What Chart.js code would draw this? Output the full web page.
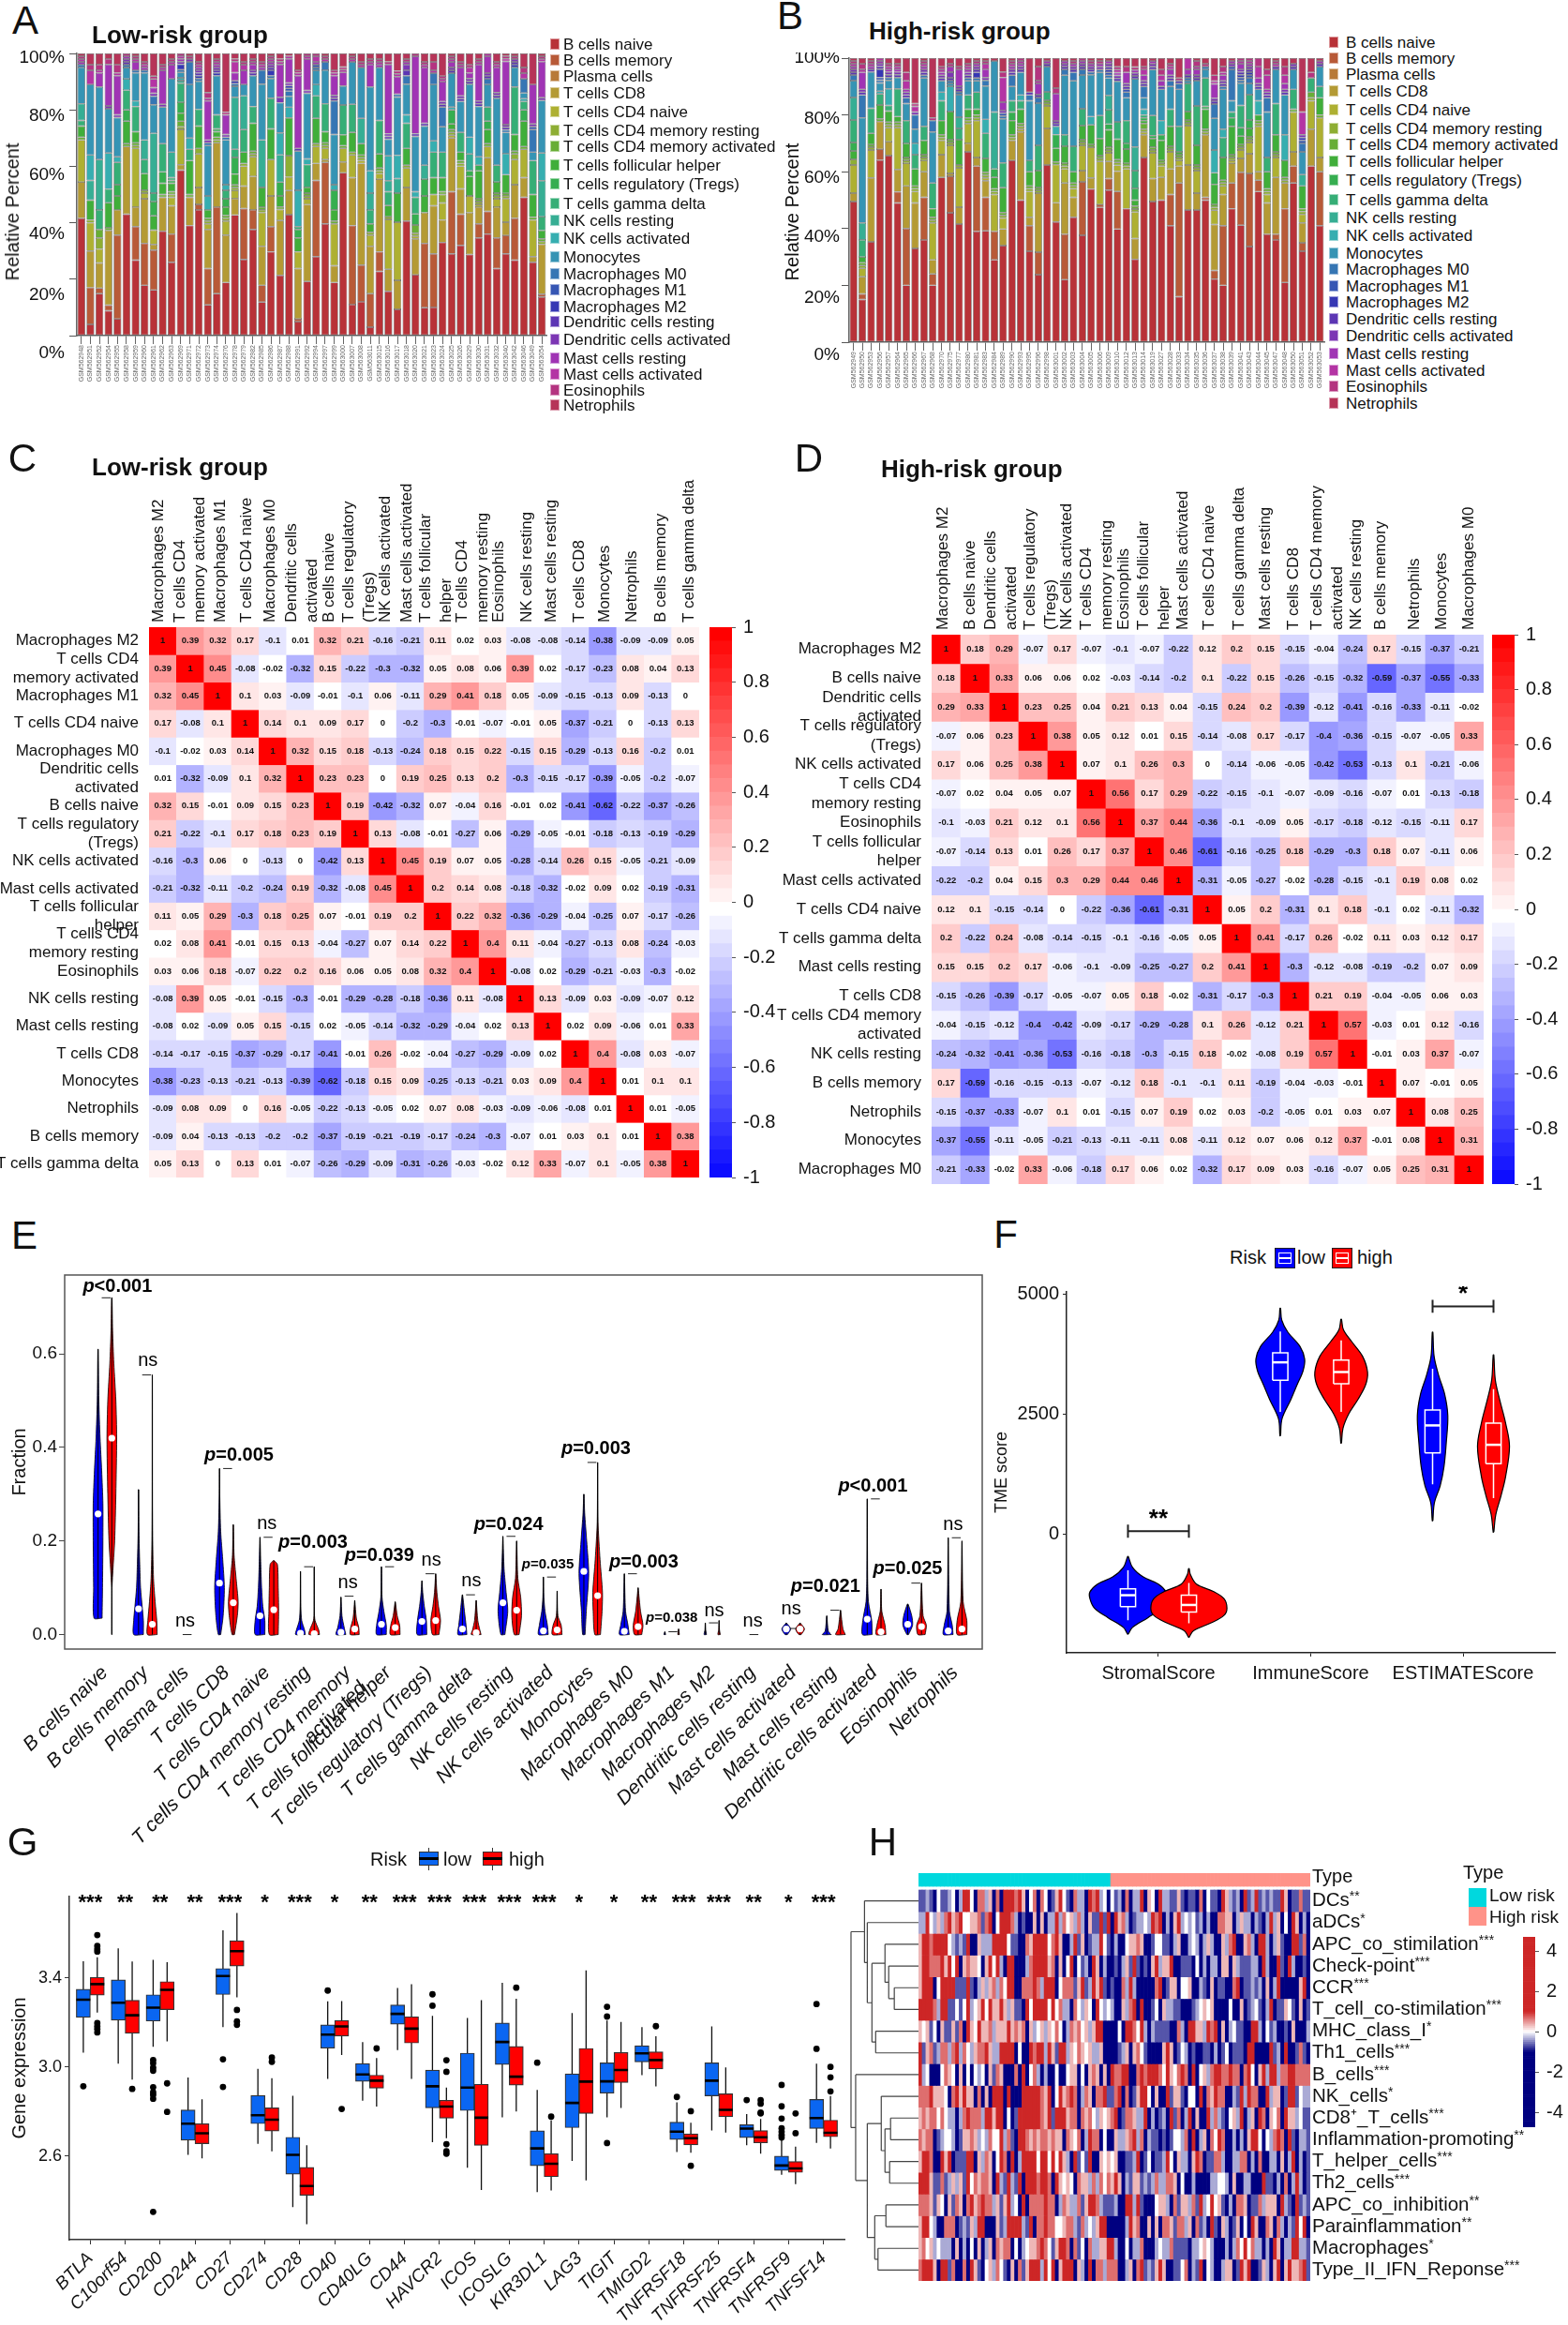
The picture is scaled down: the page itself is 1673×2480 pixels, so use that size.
<!DOCTYPE html>
<html>
<head>
<meta charset="utf-8">
<script src="https://cdn.jsdelivr.net/npm/chart.js@4"></script>
<style>
  html, body { margin: 0; padding: 0; background: #fff; }
  #page { position: relative; width: 1673px; height: 2480px; overflow: hidden; background: #fff; }
  #page canvas { position: absolute; }
  .t { position: absolute; white-space: nowrap; line-height: 1; color: #111; }
</style>
</head>
<body>
<div id="page"></div>
<script>
// --- panels A, B: immune cell fractions per sample ---
const cellTypes = ['B cells naive','B cells memory','Plasma cells','T cells CD8','T cells CD4 naive','T cells CD4 memory resting','T cells CD4 memory activated','T cells follicular helper','T cells regulatory (Tregs)','T cells gamma delta','NK cells resting','NK cells activated','Monocytes','Macrophages M0','Macrophages M1','Macrophages M2','Dendritic cells resting','Dendritic cells activated','Mast cells resting','Mast cells activated','Eosinophils','Netrophils'];
const cellColors = ['#B83238','#B85A38','#B87A38','#B49A34','#AEB032','#8EAE34','#68AE36','#40AE3A','#36AE50','#36AE76','#36AE94','#36AEB0','#3694B4','#3676B4','#3656B4','#3638B4','#5C36B4','#7C36B4','#A034B4','#B434A4','#B43480','#B63458'];
const lowSampleIds = [562948,562951,562952,562954,562955,562958,562959,562960,562961,562962,562963,562969,562971,562972,562973,562974,562976,562978,562979,562982,562985,562986,562987,562988,562991,562992,562994,562997,562999,563000,563007,563008,563011,563015,563016,563017,563018,563020,563021,563023,563024,563025,563026,563029,563030,563031,563032,563040,563042,563046,563049,563054];
const highSampleIds = [562949,562950,562953,562956,562957,562964,562965,562966,562967,562968,562970,562975,562977,562980,562981,562983,562984,562989,562990,562993,562995,562996,562998,563001,563002,563003,563004,563005,563006,563009,563010,563012,563013,563014,563019,563027,563028,563033,563034,563035,563036,563037,563038,563039,563041,563043,563044,563045,563047,563048,563050,563051,563052,563053];
const lowRiskRows = [
[42,0,0,13,15,0,1,4,0,2,6,0,13,1,0,0,0,0,1,1,1,1],
[4,13,0,13,10,1,0,7,0,0,7,9,25,0,0,0,0,0,0,5,2,4],
[15,2,0,9,5,4,3,0,0,7,18,0,26,0,0,0,0,0,5,1,2,4],
[9,2,0,27,0,0,1,9,0,5,0,13,16,0,0,0,0,1,15,0,2,2],
[6,30,0,9,0,0,0,5,4,8,0,2,14,0,0,0,0,1,14,1,3,4],
[43,0,0,24,0,0,1,8,4,7,0,4,4,1,0,0,1,1,1,0,1,0],
[27,12,0,7,21,1,1,4,0,9,0,2,10,1,0,0,0,0,3,1,1,1],
[18,15,0,16,2,1,0,6,0,5,7,0,24,1,0,0,0,0,1,1,1,3],
[16,14,0,2,5,0,0,5,5,3,21,0,10,3,0,0,0,1,2,3,1,8],
[37,0,0,12,0,0,1,4,4,10,0,0,13,0,0,0,0,1,12,1,1,4],
[26,10,0,10,3,1,1,3,1,1,9,0,26,0,0,0,0,0,5,1,1,2],
[61,0,0,2,13,1,2,3,4,7,1,1,2,1,0,2,0,1,1,1,1,0],
[39,0,0,10,0,0,1,12,0,4,0,4,19,8,0,0,0,1,0,0,1,1],
[45,2,0,6,12,2,0,8,0,6,0,0,10,1,0,1,1,1,1,1,1,3],
[11,13,0,14,2,1,1,3,0,0,0,5,18,1,0,0,0,1,14,1,2,14],
[15,31,0,23,0,1,1,2,1,5,0,0,14,0,0,1,1,1,1,1,1,2],
[19,0,0,17,5,1,1,3,3,3,0,2,16,1,0,0,0,1,7,0,1,21],
[44,0,0,6,3,1,1,4,6,3,19,0,4,1,0,1,0,0,3,4,1,2],
[27,18,0,8,7,1,0,4,0,8,12,0,4,0,0,0,0,0,5,2,1,3],
[38,7,0,12,7,1,1,10,0,6,0,0,11,0,0,0,1,1,2,1,1,2],
[12,6,0,14,12,1,1,7,0,0,17,0,20,5,0,0,0,0,1,1,1,3],
[30,9,0,11,13,0,0,11,0,11,0,0,7,1,0,2,1,1,1,1,1,1],
[22,0,0,20,4,0,1,4,5,0,10,8,11,0,0,0,0,2,12,1,1,2],
[45,0,0,9,5,8,0,14,0,0,0,4,4,2,1,1,0,1,9,1,0,1],
[5,1,0,18,6,0,0,5,3,1,0,13,14,0,0,0,1,0,26,1,1,6],
[19,0,0,27,2,1,1,2,0,8,0,2,23,0,0,0,0,1,11,1,1,0],
[28,27,0,6,6,1,0,9,0,8,0,4,5,1,1,0,0,0,1,2,1,0],
[40,22,0,1,4,1,1,4,0,10,0,0,12,3,0,0,0,0,0,1,1,1],
[19,0,0,6,15,0,1,4,7,0,0,2,18,12,0,0,1,1,7,1,1,6],
[60,0,0,4,5,0,1,4,0,11,0,0,7,0,0,0,0,0,5,1,1,5],
[11,28,0,17,8,1,0,7,0,10,0,0,15,0,0,0,0,0,0,1,1,1],
[12,13,0,36,1,1,1,4,0,0,9,0,18,0,0,0,0,0,0,1,1,3],
[3,12,0,17,4,1,0,3,0,5,6,8,30,0,0,0,0,0,8,1,1,2],
[23,7,0,26,2,1,1,5,0,12,0,0,19,0,0,0,0,0,1,1,1,2],
[16,0,0,8,18,1,0,4,0,5,4,9,6,0,0,0,1,1,25,0,1,3],
[9,0,0,10,20,0,0,10,0,0,5,8,20,1,0,0,0,0,6,1,1,6],
[41,0,0,12,7,1,0,6,0,9,0,3,11,3,0,0,2,2,1,0,1,2],
[22,0,0,13,1,1,3,0,4,6,0,2,20,0,0,0,1,0,28,0,1,0],
[10,23,0,11,0,0,0,6,6,0,5,0,14,0,0,0,1,0,20,1,1,3],
[10,19,0,17,4,0,0,6,0,9,0,4,20,4,0,0,0,0,0,1,3,3],
[33,0,0,8,6,3,1,5,0,9,0,0,9,7,0,0,1,1,7,1,1,8],
[29,22,0,19,1,1,1,2,5,0,0,1,12,0,0,0,1,1,2,1,1,1],
[32,11,0,9,8,1,1,3,0,7,0,0,11,0,0,0,1,1,10,1,1,3],
[29,0,0,15,6,0,0,7,2,0,6,6,19,0,0,0,1,1,2,2,1,4],
[35,5,0,6,1,1,1,10,2,0,0,3,18,0,0,0,1,1,13,1,1,2],
[36,8,0,19,4,0,1,5,3,5,0,0,8,2,0,0,1,1,6,1,0,0],
[24,11,0,11,3,1,1,4,0,6,0,0,24,0,0,0,1,1,9,1,1,3],
[31,7,0,5,9,1,1,7,0,0,0,8,8,1,0,0,1,1,24,1,1,1],
[27,15,0,12,9,2,1,6,0,17,0,0,7,0,0,1,1,1,0,0,1,1],
[49,0,0,7,10,0,1,9,4,3,0,1,2,5,0,0,0,0,0,2,2,5],
[26,0,0,2,13,0,1,8,0,12,0,0,3,8,1,0,0,1,14,0,0,11],
[14,1,0,18,0,1,1,3,0,5,13,10,19,0,0,0,0,1,13,1,1,1]];
const highRiskRows = [
[50,0,0,3,10,2,0,3,3,8,8,0,6,2,0,0,1,1,1,1,1,1],
[15,2,0,6,3,1,1,2,0,6,6,0,37,8,0,0,1,1,6,1,2,2],
[36,0,0,23,10,1,1,4,0,9,0,0,13,0,0,0,1,0,1,1,1,1],
[66,4,0,10,0,0,1,5,0,4,0,1,3,1,1,3,1,1,1,1,0,0],
[67,0,0,5,5,1,1,4,0,2,0,6,3,1,0,0,1,1,1,1,1,2],
[50,4,0,8,15,1,1,2,0,10,0,0,4,0,0,0,1,1,1,1,1,2],
[20,20,0,15,8,1,1,5,0,8,0,0,6,2,0,0,1,1,1,3,3,5],
[33,0,0,16,4,1,1,6,0,5,0,4,5,5,0,0,0,1,0,2,1,16],
[36,15,0,9,4,1,1,5,0,5,0,0,17,1,0,0,1,1,1,1,1,1],
[20,4,0,5,13,1,1,3,0,9,0,0,18,4,0,0,0,0,0,0,1,21],
[58,0,0,8,5,1,1,5,0,7,0,3,4,0,0,0,1,1,1,1,1,3],
[46,13,0,1,10,1,1,10,0,0,0,9,1,1,0,0,1,2,2,0,1,2],
[42,0,0,6,14,1,0,9,0,4,4,0,8,1,0,0,1,1,6,0,1,3],
[67,0,0,3,7,1,1,3,0,5,0,0,5,1,0,0,1,1,1,1,1,2],
[39,23,0,3,13,1,1,2,0,6,0,0,4,1,0,2,1,1,1,0,1,1],
[40,12,0,6,1,1,1,5,0,9,0,5,12,2,0,0,0,1,3,2,1,1],
[29,10,0,0,13,1,1,4,3,0,20,0,18,0,0,0,0,0,0,0,0,1],
[35,0,0,6,4,1,1,9,0,9,0,0,16,1,1,0,0,1,3,9,2,5],
[64,0,0,7,0,1,1,5,3,4,0,0,5,4,0,0,1,1,1,1,1,1],
[50,0,0,24,1,1,1,5,0,3,0,2,8,0,0,0,1,1,1,1,1,0],
[32,9,0,3,9,1,1,5,0,4,0,0,21,2,0,0,1,0,0,0,0,12],
[24,8,0,21,0,1,1,6,0,9,0,0,15,2,0,0,1,0,4,1,5,3],
[63,0,0,13,8,1,1,0,0,3,0,0,9,0,0,0,1,0,1,0,0,1],
[44,0,0,7,14,0,1,5,5,0,0,3,0,0,0,0,1,1,10,0,2,11],
[22,16,0,18,5,1,1,6,0,4,0,0,21,2,0,0,1,1,1,0,0,1],
[44,0,0,7,3,1,1,4,0,9,0,0,23,3,0,0,1,1,1,0,1,1],
[38,19,0,4,9,1,1,5,0,6,0,0,12,2,0,0,1,1,1,0,1,0],
[55,0,0,4,11,0,1,7,0,0,0,3,15,1,0,0,1,1,1,0,1,1],
[47,1,0,0,15,1,1,6,0,8,0,0,15,1,0,0,0,1,1,0,1,1],
[53,4,0,6,3,1,1,6,2,5,5,0,6,1,1,1,1,1,1,0,0,1],
[39,13,0,7,2,1,1,7,0,6,0,0,14,0,0,0,1,1,1,1,1,3],
[47,0,0,0,14,1,1,5,2,8,0,0,8,2,1,0,1,1,4,0,2,3],
[28,0,0,7,9,1,1,2,4,6,8,0,23,0,0,0,1,1,1,0,1,3],
[65,0,0,8,1,1,2,1,1,1,0,2,4,4,0,0,1,1,2,2,1,3],
[49,0,0,8,9,1,1,3,1,7,0,0,16,0,0,0,1,1,1,0,0,1],
[50,0,0,8,4,1,1,7,2,0,0,5,11,0,0,0,1,0,2,2,2,4],
[41,11,0,9,6,1,1,7,0,6,0,0,8,2,0,0,1,1,2,1,1,2],
[16,40,0,6,2,1,1,1,0,9,0,0,13,2,0,0,1,0,0,0,1,7],
[47,0,0,16,14,1,1,3,0,10,0,0,1,1,0,0,1,0,2,4,0,0],
[47,0,0,6,8,1,1,7,0,14,0,0,9,0,0,0,1,1,2,1,2,1],
[50,1,0,22,0,1,1,7,1,10,0,0,3,1,0,0,0,0,0,0,1,2],
[22,3,0,16,5,1,1,7,4,0,0,8,11,5,0,0,1,1,5,1,2,6],
[20,21,0,11,3,1,1,8,0,7,0,3,14,1,0,0,1,1,2,1,2,3],
[47,9,0,7,1,1,1,10,3,2,0,0,4,11,1,0,0,1,1,0,0,1],
[42,19,0,5,3,1,1,3,3,8,0,0,8,1,1,1,1,1,2,1,1,0],
[34,26,0,7,4,1,1,3,3,9,0,0,4,2,1,1,1,1,1,1,1,0],
[53,4,0,3,16,1,1,2,0,0,0,5,4,0,0,0,1,1,2,4,3,0],
[38,0,0,11,3,1,1,6,0,5,0,0,16,5,0,0,1,1,1,5,2,4],
[36,2,0,20,7,1,1,6,0,11,0,0,12,0,0,0,1,0,0,1,1,1],
[21,26,0,9,0,1,1,6,0,0,0,9,14,0,0,0,1,1,2,3,3,3],
[56,6,0,5,14,0,1,0,0,7,0,0,7,0,0,0,1,1,0,0,0,2],
[32,3,0,7,3,1,1,8,0,0,4,0,8,3,1,1,0,1,0,8,0,19],
[62,0,0,13,10,1,2,0,0,5,0,0,0,0,0,0,0,0,0,0,2,5],
[41,19,0,5,14,0,1,6,0,4,0,0,7,0,0,0,1,0,1,0,0,1]];
const percentTicks = [0,20,40,60,80,100];

// --- panels C, D: correlation matrices ---
const lowCorrLabels = [['Macrophages M2'],['T cells CD4','memory activated'],['Macrophages M1'],['T cells CD4 naive'],['Macrophages M0'],['Dendritic cells','activated'],['B cells naive'],['T cells regulatory','(Tregs)'],['NK cells activated'],['Mast cells activated'],['T cells follicular','helper'],['T cells CD4','memory resting'],['Eosinophils'],['NK cells resting'],['Mast cells resting'],['T cells CD8'],['Monocytes'],['Netrophils'],['B cells memory'],['T cells gamma delta']];
const lowCorr = [
[1,.39,.32,.17,-.1,.01,.32,.21,-.16,-.21,.11,.02,.03,-.08,-.08,-.14,-.38,-.09,-.09,.05],
[.39,1,.45,-.08,-.02,-.32,.15,-.22,-.3,-.32,.05,.08,.06,.39,.02,-.17,-.23,.08,.04,.13],
[.32,.45,1,.1,.03,-.09,-.01,-.1,.06,-.11,.29,.41,.18,.05,-.09,-.15,-.13,.09,-.13,0],
[.17,-.08,.1,1,.14,.1,.09,.17,0,-.2,-.3,-.01,-.07,-.01,.05,-.37,-.21,0,-.13,.13],
[-.1,-.02,.03,.14,1,.32,.15,.18,-.13,-.24,.18,.15,.22,-.15,.15,-.29,-.13,.16,-.2,.01],
[.01,-.32,-.09,.1,.32,1,.23,.23,0,.19,.25,.13,.2,-.3,-.15,-.17,-.39,-.05,-.2,-.07],
[.32,.15,-.01,.09,.15,.23,1,.19,-.42,-.32,.07,-.04,.16,-.01,.02,-.41,-.62,-.22,-.37,-.26],
[.21,-.22,-.1,.17,.18,.23,.19,1,.13,-.08,-.01,-.27,.06,-.29,-.05,-.01,-.18,-.13,-.19,-.29],
[-.16,-.3,.06,0,-.13,0,-.42,.13,1,.45,.19,.07,.05,-.28,-.14,.26,.15,-.05,-.21,-.09],
[-.21,-.32,-.11,-.2,-.24,.19,-.32,-.08,.45,1,.2,.14,.08,-.18,-.32,-.02,.09,.02,-.19,-.31],
[.11,.05,.29,-.3,.18,.25,.07,-.01,.19,.2,1,.22,.32,-.36,-.29,-.04,-.25,.07,-.17,-.26],
[.02,.08,.41,-.01,.15,.13,-.04,-.27,.07,.14,.22,1,.4,.11,-.04,-.27,-.13,.08,-.24,-.03],
[.03,.06,.18,-.07,.22,.2,.16,.06,.05,.08,.32,.4,1,-.08,.02,-.29,-.21,-.03,-.3,-.02],
[-.08,.39,.05,-.01,-.15,-.3,-.01,-.29,-.28,-.18,-.36,.11,-.08,1,.13,-.09,.03,-.09,-.07,.12],
[-.08,.02,-.09,.05,.15,-.15,.02,-.05,-.14,-.32,-.29,-.04,.02,.13,1,.02,.09,-.06,.01,.33],
[-.14,-.17,-.15,-.37,-.29,-.17,-.41,-.01,.26,-.02,-.04,-.27,-.29,-.09,.02,1,.4,-.08,.03,-.07],
[-.38,-.23,-.13,-.21,-.13,-.39,-.62,-.18,.15,.09,-.25,-.13,-.21,.03,.09,.4,1,.01,.1,.1],
[-.09,.08,.09,0,.16,-.05,-.22,-.13,-.05,.02,.07,.08,-.03,-.09,-.06,-.08,.01,1,.01,-.05],
[-.09,.04,-.13,-.13,-.2,-.2,-.37,-.19,-.21,-.19,-.17,-.24,-.3,-.07,.01,.03,.1,.01,1,.38],
[.05,.13,0,.13,.01,-.07,-.26,-.29,-.09,-.31,-.26,-.03,-.02,.12,.33,-.07,.1,-.05,.38,1]];
const highCorrLabels = [['Macrophages M2'],['B cells naive'],['Dendritic cells','activated'],['T cells regulatory','(Tregs)'],['NK cells activated'],['T cells CD4','memory resting'],['Eosinophils'],['T cells follicular','helper'],['Mast cells activated'],['T cells CD4 naive'],['T cells gamma delta'],['Mast cells resting'],['T cells CD8'],['T cells CD4 memory','activated'],['NK cells resting'],['B cells memory'],['Netrophils'],['Monocytes'],['Macrophages M0']];
const highCorr = [
[1,.18,.29,-.07,.17,-.07,-.1,-.07,-.22,.12,.2,.15,-.15,-.04,-.24,.17,-.15,-.37,-.21],
[.18,1,.33,.06,.06,.02,-.03,-.14,-.2,.1,-.22,.15,-.26,-.15,-.32,-.59,-.37,-.55,-.33],
[.29,.33,1,.23,.25,.04,.21,.13,.04,-.15,.24,.2,-.39,-.12,-.41,-.16,-.33,-.11,-.02],
[-.07,.06,.23,1,.38,.05,.12,.01,.15,-.14,-.08,.17,-.17,-.4,-.36,-.15,-.07,-.05,.33],
[.17,.06,.25,.38,1,.07,.1,.26,.3,0,-.14,-.06,-.05,-.42,-.53,-.13,.1,-.21,-.06],
[-.07,.02,.04,.05,.07,1,.56,.17,.29,-.22,-.15,-.1,-.07,-.09,-.16,-.07,.01,-.13,-.18],
[-.1,-.03,.21,.12,.1,.56,1,.37,.44,-.36,-.1,-.09,.05,-.17,-.18,-.12,-.15,-.11,.17],
[-.07,-.14,.13,.01,.26,.17,.37,1,.46,-.61,-.16,-.25,.18,-.29,-.3,.18,.07,-.11,.06],
[-.22,-.2,.04,.15,.3,.29,.44,.46,1,-.31,-.05,-.27,-.02,-.28,-.15,-.1,.19,.08,.02],
[.12,.1,-.15,-.14,0,-.22,-.36,-.61,-.31,1,.05,.2,-.31,.1,.18,-.1,.02,-.11,-.32],
[.2,-.22,.24,-.08,-.14,-.15,-.1,-.16,-.05,.05,1,.41,-.17,.26,-.02,.11,.03,.12,.17],
[.15,.15,.2,.17,-.06,-.1,-.09,-.25,-.27,.2,.41,1,-.3,-.12,-.08,-.19,-.2,.07,.09],
[-.15,-.26,-.39,-.17,-.05,-.07,.05,.18,-.02,-.31,-.17,-.3,1,.21,.19,-.04,-.05,.06,.03],
[-.04,-.15,-.12,-.4,-.42,-.09,-.17,-.29,-.28,.1,.26,-.12,.21,1,.57,-.03,.01,.12,-.16],
[-.24,-.32,-.41,-.36,-.53,-.16,-.18,-.3,-.15,.18,-.02,-.08,.19,.57,1,-.01,.03,.37,-.07],
[.17,-.59,-.16,-.15,-.13,-.07,-.12,.18,-.1,-.1,.11,-.19,-.04,-.03,-.01,1,.07,-.01,.05],
[-.15,-.37,-.33,-.07,.1,.01,-.15,.07,.19,.02,.03,-.2,-.05,.01,.03,.07,1,.08,.25],
[-.37,-.55,-.11,-.05,-.21,-.13,-.11,-.11,.08,-.11,.12,.07,.06,.12,.37,-.01,.08,1,.31],
[-.21,-.33,-.02,.33,-.06,-.18,.17,.06,.02,-.32,.17,.09,.03,-.16,-.07,.05,.25,.31,1]];
const corrTicks = [-1,-.8,-.6,-.4,-.2,0,.2,.4,.6,.8,1];

// --- panel E: violins, each profile is [fraction, half width] pairs ---
const fractionCells = ['B cells naive','B cells memory','Plasma cells','T cells CD8','T cells CD4 naive','T cells CD4 memory resting',['T cells CD4 memory','activated'],'T cells follicular helper','T cells regulatory (Tregs)','T cells gamma delta','NK cells resting','NK cells activated','Monocytes','Macrophages M0','Macrophages M1','Macrophages M2','Dendritic cells resting','Mast cells activated','Mast cells resting','Dendritic cells activated','Eosinophils','Netrophils'];
const fractionLow = [
[[.035,.10],[.1,.11],[.2,.12],[.28,.12],[.35,.09],[.42,.05],[.5,.02],[.61,.005]],
[[0,.12],[.03,.12],[.06,.09],[.1,.05],[.15,.03],[.22,.01],[.31,.003]],
[],
[[0,.03],[.04,.09],[.1,.12],[.16,.08],[.22,.03],[.3,.006],[.355,.002]],
[[0,.12],[.03,.12],[.06,.07],[.1,.04],[.15,.02],[.208,.003]],
[[0,.12],[.01,.1],[.03,.03],[.06,.008],[.135,.002]],
[[0,.12],[.015,.08],[.04,.025],[.08,.002]],
[[0,.12],[.02,.12],[.05,.06],[.08,.015],[.145,.002]],
[[0,.12],[.03,.11],[.06,.06],[.09,.02],[.115,.002]],
[[0,.11],[.02,.09],[.05,.05],[.085,.005]],
[[0,.05],[.05,.12],[.09,.08],[.14,.03],[.21,.002]],
[[0,.12],[.02,.1],[.05,.04],[.08,.012],[.123,.002]],
[[0,.03],[.05,.06],[.13,.12],[.2,.07],[.26,.02],[.3,.003]],
[[0,.12],[.02,.09],[.05,.03],[.13,.002]],
[[0,.02],[.004,.01],[.006,.001]],
[[0,.03],[.01,.01],[.025,.002]],
[],
[[0,.03],[.012,.11],[.025,.002]],
[[0,.11],[.007,.04],[.04,.002]],
[[0,.12],[.03,.11],[.07,.03],[.12,.01],[.29,.002]],
[[0,.02],[.02,.12],[.04,.1],[.065,.01]],
[[0,.12],[.02,.1],[.05,.03],[.207,.002]]];
const fractionHigh = [
[[0,.002],[.05,.003],[.1,.004],[.2,.07],[.3,.1],[.42,.12],[.5,.1],[.58,.05],[.65,.02],[.72,.005]],
[[0,.12],[.03,.11],[.07,.07],[.12,.03],[.2,.01],[.3,.004],[.555,.002]],
[],
[[0,.03],[.04,.1],[.07,.12],[.12,.07],[.17,.02],[.235,.003]],
[[0,.11],[.05,.12],[.1,.11],[.15,.09],[.158,.01]],
[[0,.13],[.01,.11],[.03,.02],[.05,.002],[.145,.002]],
[[0,.11],[.015,.1],[.035,.04],[.073,.002]],
[[0,.12],[.02,.11],[.04,.05],[.07,.003]],
[[0,.08],[.03,.12],[.06,.07],[.09,.03],[.13,.002]],
[[0,.12],[.01,.09],[.03,.04],[.073,.002]],
[[0,.06],[.04,.12],[.08,.1],[.12,.03],[.2,.002]],
[[0,.12],[.02,.1],[.04,.02],[.093,.002]],
[[0,.07],[.05,.11],[.09,.12],[.16,.06],[.24,.01],[.368,.002]],
[[0,.09],[.02,.12],[.05,.06],[.1,.002]],
[[0,.02],[.006,.01],[.012,.001]],
[[0,.03],[.01,.01],[.03,.002]],
[],
[[0,.03],[.012,.11],[.025,.002]],
[[0,.12],[.012,.06],[.052,.002]],
[[0,.12],[.02,.1],[.05,.02],[.097,.002]],
[[0,.09],[.02,.12],[.04,.04],[.11,.002]],
[[0,.12],[.03,.12],[.07,.03],[.2,.002]]];
const fractionLowMedian = [.258,.055,null,.11,.04,.003,.005,.022,.028,.012,.068,.008,.135,.007,null,null,null,.012,null,.033,.022,.008];
const fractionHighMedian = [.42,.022,null,.068,.053,.002,.012,.015,.03,.004,.052,.01,.083,.017,null,null,null,.012,null,.006,.017,.012];
const fractionBracket = [.72,.555,0,.355,.208,.145,.082,.145,.13,.085,.21,.123,.368,.13,.006,.025,0,.013,.052,.29,.11,.207];
const fractionTicks = [0,.2,.4,.6];
const fractionNoteText = ['p<0.001','ns','ns','p=0.005','ns','p=0.003','ns','p=0.039','ns','ns','p=0.024','p=0.035','p=0.003','p=0.003','p=0.038','ns','ns','ns','p=0.021','p<0.001','p=0.025','ns'];
const fractionNoteX = [.31,1.06,1.98,3.31,4,5.14,6,6.78,8.06,9.05,9.97,10.94,12.13,13.31,14,15.05,16,16.95,17.8,18.97,19.83,20.95];
const fractionNoteY = [.744,.585,.029,.382,.237,.197,.11,.168,.159,.114,.235,.149,.396,.155,.035,.05,.028,.054,.103,.317,.14,.234];

// --- panel F: TME scores, profile is [score, half width] pairs ---
const scoreNames = ['StromalScore','ImmuneScore','ESTIMATEScore'];
const scoreTicks = [0,2500,5000];
const scoreLow = [
[[-2090,.002],[-1950,.03],[-1750,.13],[-1550,.22],[-1350,.25],[-1213,.25],[-1050,.2],[-900,.1],[-700,.03],[-472,.002]],
[[2042,.002],[2400,.012],[2800,.07],[3100,.11],[3400,.15],[3640,.16],[3900,.13],[4200,.05],[4450,.01],[4698,.002]],
[[270,.002],[650,.012],[1000,.05],[1400,.075],[1900,.09],[2460,.1],[2900,.08],[3300,.04],[3700,.01],[4199,.002]]];
const scoreHigh = [
[[-2157,.002],[-2020,.03],[-1850,.15],[-1700,.23],[-1550,.25],[-1350,.23],[-1200,.16],[-1050,.05],[-850,.01],[-728,.002]],
[[1887,.002],[2200,.012],[2500,.05],[2800,.11],[3100,.16],[3370,.173],[3700,.14],[4000,.07],[4250,.015],[4469,.002]],
[[34,.002],[400,.015],[800,.05],[1200,.08],[1820,.105],[2300,.08],[2800,.04],[3200,.012],[3727,.002]]];
// whisker low, q1, median, q3, whisker high
const scoreLowBox = [[-1800,-1516,-1280,-1146,-762],[2541,3200,3572,3768,4213],[1031,1685,2258,2581,3437]];
const scoreHighBox = [[-1867,-1631,-1483,-1280,-1024],[2541,3127,3370,3620,4031],[741,1463,1854,2305,3013]];
const scoreSigX = [[-.2,.2],[1.8,2.2]];
const scoreSigY = [54,4738];
const scoreSigText = ['**','*'];

// --- panel G: checkpoint genes, whisker low, q1, median, q3, whisker high ---
const geneNames = ['BTLA','C10orf54','CD200','CD244','CD27','CD274','CD28','CD40','CD40LG','CD44','HAVCR2','ICOS','ICOSLG','KIR3DL1','LAG3','TIGIT','TMIGD2','TNFRSF18','TNFRSF25','TNFRSF4','TNFRSF9','TNFSF14'];
const geneStars = ['***','**','**','**','***','*','***','*','**','***','***','***','***','***','*','*','**','***','***','**','*','***'];
const geneLow = [[3.065,3.223,3.303,3.35,3.475],[3.016,3.211,3.289,3.392,3.533],[3.091,3.207,3.267,3.325,3.482],[2.606,2.672,2.746,2.808,2.953],[3.18,3.326,3.409,3.443,3.614],[2.656,2.746,2.784,2.873,2.992],[2.371,2.519,2.606,2.685,2.871],[2.947,3.085,3.146,3.19,3.295],[2.849,2.936,2.967,3.016,3.112],[3.077,3.193,3.239,3.279,3.356],[2.663,2.817,2.914,2.987,3.23],[2.548,2.805,2.908,3.063,3.221],[2.774,3.012,3.113,3.198,3.379],[2.439,2.557,2.635,2.714,2.898],[2.579,2.728,2.839,2.97,3.243],[2.774,2.883,2.936,3.019,3.209],[2.964,3.023,3.062,3.096,3.18],[2.619,2.675,2.71,2.753,2.842],[2.715,2.871,2.939,3.019,3.183],[2.649,2.683,2.724,2.741,2.789],[2.517,2.536,2.558,2.6,2.674],[2.66,2.724,2.771,2.855,3.016]];
const geneHigh = [[3.245,3.323,3.373,3.403,3.493],[2.944,3.152,3.233,3.3,3.474],[3.115,3.258,3.347,3.384,3.471],[2.59,2.656,2.703,2.746,2.855],[3.313,3.454,3.521,3.568,3.692],[2.622,2.713,2.764,2.817,2.95],[2.294,2.424,2.466,2.55,2.649],[3.054,3.139,3.183,3.21,3.297],[2.823,2.905,2.939,2.964,3.041],[2.947,3.108,3.173,3.226,3.372],[2.681,2.771,2.823,2.851,2.908],[2.448,2.649,2.773,2.923,3.301],[2.801,2.919,2.957,3.093,3.307],[2.446,2.508,2.566,2.611,2.762],[2.491,2.792,2.935,3.084,3.434],[2.817,2.931,2.987,3.066,3.203],[2.913,2.992,3.032,3.069,3.139],[2.616,2.651,2.681,2.7,2.75],[2.706,2.777,2.808,2.88,2.999],[2.611,2.66,2.685,2.715,2.767],[2.474,2.527,2.545,2.576,2.643],[2.634,2.687,2.705,2.762,2.87]];
const geneLowOutliers = [[2.914],[],[3.032,3.018,2.998,2.984,2.91,2.887,2.876,2.858,2.35],[],[3.035,2.911],[],[],[3.344],[],[],[3.327,3.276],[],[],[3.02],[],[3.271,3.227,2.659],[],[2.866],[],[2.852],[2.92,2.824,2.769,2.725,2.71,2.696,2.684],[3.283,3.082]];
const geneHighOutliers = [[3.593,3.544,3.53,3.519,3.198,3.183,3.171,3.156],[2.902],[2.927,2.799],[],[3.257,3.205,3.19],[3.043,3.024],[],[2.812],[3.084],[],[3.031,2.979,2.654,2.622,2.611],[],[3.357],[2.778],[],[],[3.184],[2.802,2.557],[],[2.852,2.836,2.796,2.792],[2.792,2.703],[3.001,2.954,2.891]];
const geneTicks = [2.6,3.0,3.4];

// --- panel H: ssGSEA heatmap, cell values in thirds of a score unit ---
const immuneSets = ['DCs**','aDCs*','APC_co_stimilation***','Check-point***','CCR***','T_cell_co-stimilation***','MHC_class_I*','Th1_cells***','B_cells***','NK_cells*','CD8\u207A_T_cells***','Inflammation-promoting**','T_helper_cells***','Th2_cells***','APC_co_inhibition**','Parainflammation**','Macrophages*','Type_II_IFN_Reponse***'];
const lowColumns = 52;
const heatLeft = [
[-2,-2,-1,-2,-3,0,-2,-2,-1,0,-3,-1,3,3,0,-3,2,2,-1,1,-3,2,-3,3,3,3,2,3,1,-3,0,2,-3,2,0,-3,-2,1,3,0,-2,-3,2,-1,-1,-3,3,2,3,-1,0,-3],
[-1,-1,3,0,-1,1,-1,2,3,1,2,3,0,0,1,1,2,-2,2,3,-3,0,3,3,3,2,-1,-3,-2,-3,-3,1,-3,1,-3,-1,-1,3,-1,2,0,1,-1,2,-1,-3,1,-2,-2,3,-2,3],
[1,3,3,2,3,3,3,3,0,-1,-2,-1,-2,3,-3,-3,1,-1,-1,-1,3,3,3,3,0,-2,-2,-3,-3,2,1,3,3,3,3,0,2,3,1,-3,-3,-1,3,-2,1,-3,-2,-1,-1,3,0,-2],
[1,3,3,2,2,2,3,1,3,0,3,-3,1,2,1,1,0,-3,1,3,0,3,-1,-3,3,3,-3,-3,-3,-1,2,3,3,3,3,1,2,-3,1,-3,0,3,-3,0,-2,-1,-3,3,1,-3,-1,-3],
[1,3,3,3,-3,0,3,3,3,3,-2,-2,-2,3,-2,-3,-1,1,-1,1,2,-1,2,0,3,3,-3,-3,2,2,2,3,2,-1,3,3,3,-3,0,2,2,2,-2,1,3,-2,-1,3,1,3,-2,-3],
[3,3,3,3,2,-1,3,3,-2,-2,0,-2,0,3,-1,0,1,3,0,3,1,1,3,1,-1,1,-2,-2,-3,3,0,3,3,3,3,0,3,0,2,-1,-1,-3,2,0,-1,1,0,-3,3,0,-1,0],
[1,0,1,-2,0,-3,1,-2,-2,1,-2,2,-3,3,1,0,3,1,1,2,-1,1,1,1,3,1,2,1,2,-3,1,-1,0,1,-1,1,0,2,0,-3,-1,2,1,2,0,1,-1,1,3,3,-3,-3],
[3,-2,1,2,-2,-1,2,2,-1,2,3,-1,2,0,-1,1,2,2,3,1,-1,-1,3,3,3,3,-3,0,-3,-3,3,2,3,3,-1,3,1,-2,3,3,-1,1,0,2,1,0,1,-1,-1,1,-3,-3],
[3,-1,0,-3,-3,-3,0,2,1,0,-3,1,-3,0,-3,0,-1,0,-3,1,-2,2,1,-3,-3,-3,2,-3,3,-3,0,2,-1,-3,-1,-3,-3,0,-3,-3,0,1,1,-3,0,-3,1,2,1,-3,1,-3],
[2,2,2,3,1,1,1,0,-3,2,3,1,3,1,1,-3,2,-3,1,-3,3,3,3,-3,3,-3,-3,-3,3,3,3,3,3,2,1,3,-3,0,3,1,2,3,2,-3,-1,2,1,-3,2,2,3,-2],
[1,2,1,2,2,0,2,0,-1,-1,-3,-1,2,3,2,2,2,-1,3,3,1,3,3,-3,0,-3,-2,3,3,3,3,3,3,2,1,3,-2,3,3,3,1,2,2,-3,2,1,2,0,-1,1,0,1],
[2,1,2,2,-3,-2,-1,0,0,-1,-3,-2,1,1,2,1,-1,0,-1,2,0,0,3,-1,2,-2,-3,3,3,2,1,2,1,2,2,1,2,1,1,-3,2,1,0,2,-3,-1,3,2,2,-3,0,-3],
[1,3,3,2,-3,-3,3,1,3,-3,-2,-2,-2,3,3,-3,1,-1,2,1,-3,0,3,2,-3,3,-3,-1,3,3,3,3,0,3,3,0,3,0,3,1,-1,-3,3,-2,0,-2,3,-3,-3,1,0,1],
[3,3,3,1,-2,-2,2,-2,-1,1,-1,1,-2,3,0,2,1,2,2,1,-3,3,-1,-2,3,-1,-2,3,-3,3,3,3,2,3,3,2,-3,3,1,0,1,0,-3,2,1,1,-1,2,-1,2,0,2],
[2,2,2,1,-2,1,0,-3,1,-2,2,1,-3,2,3,1,2,3,2,2,-1,1,-2,1,3,-1,0,-3,3,-3,2,2,2,2,3,2,2,-3,-1,2,1,-1,-1,2,-2,1,3,3,2,-1,-2,-2],
[1,3,3,0,-1,-3,-3,2,2,2,-3,-2,-1,-2,1,-1,3,3,-3,-3,-3,1,-2,-1,3,3,3,3,-1,-2,3,-3,2,2,3,2,2,0,0,1,2,2,-1,-2,2,-1,0,-1,1,3,3,-3],
[1,2,0,1,-1,0,-1,-1,-1,-3,1,-3,-1,-3,0,-3,1,-3,-1,1,-3,2,1,2,2,-3,0,-3,-1,0,1,1,2,3,2,0,-2,1,3,3,2,-3,2,-2,0,-3,2,-1,-1,1,1,3],
[2,3,3,3,1,-3,3,3,-2,2,-3,-3,2,-3,3,1,-2,-3,0,1,-1,2,0,-2,-3,1,-3,2,-2,1,3,3,3,-1,3,0,3,-3,1,3,3,3,-3,1,-1,-3,3,-3,2,2,-1,2]];
const heatRight = [
[0,-2,-1,-3,2,-3,-1,-1,3,-3,1,0,-3,3,-1,-1,-2,-2,1,-2,-3,-2,-2,-3,2,-3,0,-2,-2,-3,3,1,-1,-2,-1,-3,3,-2,-1,3,-2,-1,-2,-1,-2,-2,3,1,-3,-2,-2,2,-2,-2],
[-3,3,1,2,-1,-3,-2,-1,-1,0,-1,3,2,3,-3,-1,-3,1,3,-1,0,-1,0,-2,-1,-3,-1,-3,-3,2,2,1,1,-3,-1,1,-1,-1,-3,-1,-2,-3,-1,3,-1,1,-3,0,-3,3,1,-3,-1,-3],
[-3,-1,-3,-3,0,1,1,2,1,-3,-3,-2,0,0,-2,-2,-3,-1,1,-3,-3,-1,0,-1,-3,-1,1,-1,-3,-3,1,-1,2,3,-3,-3,1,2,-1,-3,3,3,-1,-3,-1,1,-2,-3,-3,3,3,-2,2,-3],
[-3,-2,-3,-1,1,-2,3,-2,-3,-2,-3,1,3,-1,1,1,3,-3,-3,-2,-2,-2,-3,0,-3,-1,-3,-1,-1,-3,1,1,-3,1,-1,-2,-2,-2,-1,-1,-3,3,-1,-3,-3,3,-2,-3,3,-1,-3,-3,-2,-3],
[-2,-3,-3,2,-1,3,-1,-3,-3,-3,-3,-3,2,3,-3,-2,1,1,-3,0,0,1,-3,-3,-1,-2,-3,1,-3,-2,-2,-3,-3,2,3,-3,-2,-2,-1,-2,-1,-3,1,-3,-1,3,-3,-3,-3,-3,-3,1,3,-3],
[-1,-3,-3,1,-1,2,3,-3,3,-3,-3,-2,0,-3,1,-1,-1,-2,-2,-3,-3,-3,-2,-1,0,1,0,1,-3,-3,-3,-3,0,-3,-3,1,-3,-2,-1,0,-2,-3,-1,3,-3,-2,-2,1,0,-2,-3,1,-3,-2],
[-3,-3,0,-3,3,3,2,0,3,-1,-3,-1,-2,-2,-2,-2,-3,-3,2,-1,-3,3,3,1,1,-1,3,2,3,-3,1,-3,-1,0,-2,-2,-3,-3,3,3,-1,-3,0,-2,-1,-3,-3,-2,-3,1,-3,-3,-3,-1],
[-3,-3,-2,-1,1,-3,1,2,0,-2,-3,-3,-3,-3,1,3,1,-3,-2,0,-1,-3,-2,-3,-3,-2,-2,-3,-1,-3,-2,0,-3,-2,-2,-2,-3,3,3,-3,-3,-3,-3,3,-2,-1,-3,3,-3,-3,-2,2,-2,-3],
[3,2,2,3,3,-3,-3,2,3,2,3,3,3,2,0,3,1,0,2,3,2,-3,3,-3,0,1,-1,2,3,3,2,2,3,2,2,-3,2,3,0,-3,1,3,-1,3,3,-1,2,2,3,3,2,2,2,2],
[-2,2,3,-3,2,-3,-2,1,3,3,0,-3,1,-3,-3,3,-2,1,1,-2,-3,0,0,-3,3,-3,2,1,3,2,2,-3,-3,-1,-2,3,-1,3,2,2,-3,-3,3,-1,1,1,-3,-2,3,3,-2,0,-1,-1],
[2,3,-3,-2,2,2,1,-1,-1,3,-3,-1,-3,-2,-1,-3,3,-2,2,-3,-1,3,-3,1,-3,-3,3,-1,2,-1,-2,-3,0,1,-1,3,-3,-1,1,-3,3,2,-3,1,0,2,-3,3,1,1,-1,0,-2,-2],
[-3,1,-1,-1,1,2,3,-1,2,-3,-1,-2,-2,-3,-2,-3,-2,0,0,-1,2,-3,3,-3,-1,1,-3,2,0,3,2,-3,-3,-1,-3,-1,-3,1,3,3,0,-3,0,-1,2,3,2,-3,3,-2,-3,-1,-1,-2],
[0,1,-3,-3,-2,-2,-1,3,-3,-2,0,-3,-2,-2,-1,3,0,-3,1,-1,-1,-3,1,3,2,-3,-2,-2,2,2,-1,-3,-3,-1,-1,2,2,-3,-1,-3,2,-3,-3,-1,-1,-3,1,-3,-1,3,-3,-1,-3,-2],
[1,3,1,-3,-1,-2,1,1,-2,-1,-2,-1,2,-1,-1,2,2,1,-3,0,-3,-3,-1,-3,-3,-3,-3,-1,-1,0,0,-1,-3,1,-3,-3,-1,-1,-3,-3,-3,3,-2,-2,-3,-1,-3,2,-3,-1,3,-1,-3,-2],
[-2,-1,-3,-3,3,3,-1,3,-2,-3,-3,-3,0,1,1,-1,-3,2,-2,1,1,-1,2,-2,3,-1,0,3,0,1,-2,-3,-1,-3,2,2,1,-3,-2,-2,2,-1,1,1,1,-3,3,-1,-2,-3,3,-2,-1,-2],
[-3,-3,-3,-3,-1,3,1,2,-3,-3,1,-3,1,-3,2,2,1,-2,2,2,-1,1,-3,2,-2,-1,-3,3,-2,-3,1,-1,-3,-2,1,-3,0,-3,3,1,-3,-3,2,1,-3,2,-1,-3,-1,-2,3,0,3,-3],
[3,-1,-3,-3,0,-3,-1,-1,2,-3,-3,-3,-1,0,-1,-1,2,-2,-2,-2,-2,-3,-1,-1,0,1,0,-1,-3,-3,-3,-1,-3,-1,2,0,3,0,2,-1,-1,-3,-1,-3,3,1,-3,-1,-1,3,3,-1,-1,-2],
[2,2,-3,-3,-1,1,-3,2,3,-2,-1,-2,1,3,1,-3,-3,-2,-2,0,2,-3,-1,-2,3,-3,0,-1,-3,-3,-1,1,1,-3,-2,3,1,3,-3,-3,-2,1,-1,-3,1,3,-3,1,3,1,1,2,3,-2]];
const heatTicks = [-4,-2,0,2,4];
// dendrogram segments: height0, row0, height1, row1
const dendroSegments = [
[46,.5,162,.5],[52,1.5,162,1.5],[90,2.5,162,2.5],[98,3.5,162,3.5],[110,4.5,162,4.5],[110,5.5,162,5.5],[70,6.5,162,6.5],[70,7.5,162,7.5],[27,8.5,162,8.5],[82,9.5,162,9.5],[102,10.5,162,10.5],[102,11.5,162,11.5],[100,12.5,162,12.5],[100,13.5,162,13.5],[92,14.5,162,14.5],[92,15.5,162,15.5],[75,16.5,162,16.5],[75,17.5,162,17.5],
[110,4.5,110,5.5],[98,5,110,5],[98,3.5,98,5],[90,4.25,98,4.25],[90,2.5,90,4.25],[62,3.375,90,3.375],[70,6.5,70,7.5],[62,7,70,7],[62,3.375,62,7],[52,5.19,62,5.19],[52,1.5,52,5.19],[46,3.34,52,3.34],[46,.5,46,3.34],[17,1.92,46,1.92],
[102,10.5,102,11.5],[90,11,102,11],[100,12.5,100,13.5],[90,13,100,13],[90,11,90,13],[82,12,90,12],[82,9.5,82,12],[52,10.75,82,10.75],
[92,14.5,92,15.5],[68,15,92,15],[75,16.5,75,17.5],[68,17,75,17],[68,15,68,17],[52,16,68,16],[52,10.75,52,16],[27,13.375,52,13.375],[27,8.5,27,13.375],[17,10.94,27,10.94],[17,1.92,17,10.94]];

// --- helpers ---
const sans = '"Liberation Sans", Arial, sans-serif';
const page = document.getElementById('page');

function txt(text, x, y, o) {
  o = o || {};
  const d = document.createElement('div');
  d.className = 't';
  d.textContent = text;
  d.style.left = x + 'px';
  d.style.top = y + 'px';
  d.style.fontFamily = o.font || sans;
  d.style.fontSize = (o.size || 17) + 'px';
  if (o.weight) d.style.fontWeight = o.weight;
  const ax = o.anchor === 'center' ? '-50%' : (o.anchor === 'end' ? '-100%' : '0');
  d.style.transform = 'translate(' + ax + ',-50%)' + (o.rot ? ' rotate(' + o.rot + 'deg)' : '');
  page.appendChild(d);
  return d;
}

function box(x, y, w, h, css) {
  const d = document.createElement('div');
  d.style.cssText = 'position:absolute;box-sizing:border-box;left:' + x + 'px;top:' + y + 'px;width:' + w + 'px;height:' + h + 'px;' + (css || '');
  page.appendChild(d);
  return d;
}

// canvas placed so the chart area lands exactly on the plot rectangle
function makeCanvas(plot, m) {
  const c = document.createElement('canvas');
  c.width = plot.r - plot.l + m.l + m.r;
  c.height = plot.b - plot.t + m.t + m.b;
  c.style.left = (plot.l - m.l) + 'px';
  c.style.top = (plot.t - m.t) + 'px';
  page.appendChild(c);
  return c;
}
function fixWidth(w) {
  return s => { s.width = w; s.paddingTop = s.paddingBottom = s.paddingLeft = s.paddingRight = 0; };
}
function fixHeight(h) {
  return s => { s.height = h; s.paddingTop = s.paddingBottom = s.paddingLeft = s.paddingRight = 0; };
}
function baseOptions(m, scales) {
  return {
    responsive: false,
    animation: false,
    layout: { padding: { top: m.t, right: m.r, left: 0, bottom: 0 } },
    plugins: { legend: { display: false }, tooltip: { enabled: false } },
    scales: scales
  };
}
function setTicks(list) { return a => { a.ticks = list.map(v => ({ value: v })); }; }

// text placed in data coordinates
function textMarks(items) {
  return {
    id: 'textMarks',
    afterDatasetsDraw(chart) {
      const ctx = chart.ctx;
      ctx.save();
      ctx.textBaseline = 'middle';
      ctx.fillStyle = '#000';
      items.forEach(it => {
        const x = chart.scales.x.getPixelForValue(it.x);
        const y = chart.scales.y.getPixelForValue(it.y);
        if (it.text[0] === 'p') {
          ctx.font = 'italic ' + it.font;
          const a = ctx.measureText('p').width;
          const rest = it.text.slice(1);
          ctx.font = it.font;
          const b = ctx.measureText(rest).width;
          ctx.textAlign = 'left';
          ctx.fillText(rest, x - (a + b) / 2 + a, y);
          ctx.font = 'italic ' + it.font;
          ctx.fillText('p', x - (a + b) / 2, y);
        } else {
          ctx.font = it.font;
          ctx.textAlign = 'center';
          ctx.fillText(it.text, x, y);
        }
      });
      ctx.restore();
    }
  };
}
// y labels of A and B sit a little lower than their ticks in the figure
function shiftedLabels(values, pixelY, right, font) {
  return {
    id: 'shiftedLabels',
    afterDraw(chart) {
      const ctx = chart.ctx;
      ctx.save();
      ctx.font = font;
      ctx.fillStyle = '#111';
      ctx.textAlign = 'right';
      ctx.textBaseline = 'middle';
      values.forEach((v, i) => ctx.fillText(v + '%', right, pixelY[i]));
      ctx.restore();
    }
  };
}
const frame = {
  id: 'frame',
  afterDraw(chart) {
    const a = chart.chartArea, ctx = chart.ctx;
    ctx.save();
    ctx.strokeStyle = '#555';
    ctx.lineWidth = 1.5;
    ctx.strokeRect(a.left, a.top, a.right - a.left, a.bottom - a.top);
    ctx.restore();
  }
};
function lineSet(points, color, width, order) {
  return { type: 'scatter', showLine: true, spanGaps: false, data: points, borderColor: color, backgroundColor: color, borderWidth: width, pointRadius: 0, order: order };
}
function dotSet(points, color, radius, order) {
  return { type: 'scatter', showLine: false, data: points, backgroundColor: color, borderColor: color, borderWidth: 0, pointRadius: radius, order: order };
}
function violinSet(profile, cx, color, lw, tension) {
  const pts = [];
  profile.forEach(p => pts.push({ x: cx + p[1], y: p[0] }));
  profile.slice().reverse().forEach(p => pts.push({ x: cx - p[1], y: p[0] }));
  pts.push(pts[0]);
  return { type: 'scatter', showLine: true, data: pts, borderColor: '#000', backgroundColor: color, borderWidth: lw, pointRadius: 0, fill: 'shape', tension: tension, order: 5 };
}

// --- panels A, B ---
function stackedPanel(rows, ids, plot, labelY, labelRight) {
  const m = { l: plot.l, r: 4, t: 6, b: 70 };
  const c = makeCanvas(plot, m);
  const canvasTop = plot.t - m.t;
  const datasets = cellTypes.map((name, i) => ({
    label: name,
    data: rows.map(r => r[i] / r.reduce((a, b) => a + b, 0) * 100),
    backgroundColor: cellColors[i],
    borderColor: 'rgba(45,45,45,.75)',
    borderWidth: .7,
    borderSkipped: false,
    barPercentage: .86,
    categoryPercentage: 1
  }));
  new Chart(c, {
    type: 'bar',
    data: { labels: ids.map(v => 'GSM' + v), datasets },
    options: baseOptions(m, {
      x: { stacked: true, afterFit: fixHeight(m.b), border: { color: '#666', width: 1.5 },
        grid: { drawOnChartArea: false, color: '#666', tickLength: 9, offset: false },
        ticks: { autoSkip: false, minRotation: 90, maxRotation: 90, padding: 1, color: '#666', font: { family: sans, size: 7 } } },
      y: { stacked: true, min: 0, max: 100, afterFit: fixWidth(m.l), afterBuildTicks: setTicks(percentTicks), border: { color: '#666', width: 1.5 },
        grid: { drawOnChartArea: false, color: '#555', tickLength: 8 }, ticks: { display: false } }
    }),
    plugins: [shiftedLabels(percentTicks.slice().reverse(), labelY.map(y => y - canvasTop), labelRight, '19px ' + sans)]
  });
}
stackedPanel(lowRiskRows, lowSampleIds, { l: 82, r: 583, t: 57, b: 358 }, [62,124,187,250,315,377], 69);
stackedPanel(highRiskRows, highSampleIds, { l: 906, r: 1413, t: 62, b: 365 }, [62,127,190,253,318,379], 896);

function cellLegend(swatchX, textX, ys) {
  cellTypes.forEach((name, i) => {
    box(swatchX, ys[i] - 6, 10, 12, 'background:' + cellColors[i] + ';border:1px solid rgba(255,255,255,.5)');
    txt(name, textX, ys[i], { size: 17 });
  });
}
cellLegend(587, 601, [47,64,81,99,119,139,156,176,196,217,235,254,274,292,309,327,343,362,382,399,416,432]);
cellLegend(1418, 1436, [45,62,79,97,117,137,154,172,192,213,232,251,270,287,305,322,340,358,377,395,412,430]);

// --- panels C, D ---
function corrColor(v) {
  const q = Math.round(v * 20) / 20;
  const k = Math.round(255 * (1 - Math.abs(q)));
  return q >= 0 ? 'rgb(255,' + k + ',' + k + ')' : 'rgb(' + k + ',' + k + ',255)';
}
function corrPanel(matrix, labels, columnShift, plot, barPlot) {
  const n = labels.length;
  const m = { l: plot.l, r: 2, t: 190, b: 2 };
  const c = makeCanvas(plot, m);
  const datasets = matrix.map((row, i) => ({
    data: row.map(() => [i, i + 1]),
    backgroundColor: row.map(corrColor),
    borderWidth: 0,
    barPercentage: 1,
    categoryPercentage: 1,
    grouped: false
  }));
  const cellText = {
    id: 'cellText',
    afterDatasetsDraw(chart) {
      const ctx = chart.ctx;
      ctx.save();
      ctx.font = 'bold 9.5px ' + sans;
      ctx.fillStyle = '#111';
      ctx.textAlign = 'center';
      ctx.textBaseline = 'middle';
      matrix.forEach((row, i) => {
        row.forEach((v, j) => {
          ctx.fillText(String(v), chart.scales.x.getPixelForValue(j), chart.scales.y.getPixelForValue(i + .5));
        });
      });
      ctx.restore();
    }
  };
  // column names: wrapped labels, nudged sideways so they do not collide
  const columnText = {
    id: 'columnText',
    afterDraw(chart) {
      const ctx = chart.ctx, lh = 21.5;
      ctx.save();
      ctx.font = '17px ' + sans;
      ctx.fillStyle = '#111';
      ctx.textAlign = 'left';
      ctx.textBaseline = 'middle';
      labels.forEach((lines, j) => {
        lines.forEach((line, k) => {
          ctx.save();
          ctx.translate(chart.scales.x.getPixelForValue(j) + columnShift[j] + (k - (lines.length - 1) / 2) * lh, chart.chartArea.top - 5);
          ctx.rotate(-Math.PI / 2);
          ctx.fillText(line, 0, 0);
          ctx.restore();
        });
      });
      ctx.restore();
    }
  };
  new Chart(c, {
    type: 'bar',
    data: { labels: labels, datasets },
    options: {
      responsive: false, animation: false,
      layout: { padding: { right: m.r, bottom: m.b } },
      plugins: { legend: { display: false }, tooltip: { enabled: false } },
      scales: {
        x: { position: 'top', afterFit: fixHeight(m.t), border: { display: false }, grid: { display: false }, ticks: { display: false } },
        y: { min: 0, max: n, reverse: true, afterFit: fixWidth(m.l), afterBuildTicks: setTicks(labels.map((_, i) => i + .5)), border: { display: false }, grid: { display: false },
          ticks: { autoSkip: false, padding: 3, color: '#111', font: { family: sans, size: 17, lineHeight: 1.2 }, callback: v => labels[Math.floor(v)] } }
      }
    },
    plugins: [cellText, columnText]
  });
  colorBar(barPlot, -1, 1, corrTicks, corrColor, .05, v => String(v));
}
function colorBar(plot, lo, hi, ticks, colorFn, step, fmt) {
  const m = { l: 0, r: 48, t: 8, b: 8 };
  const c = makeCanvas(plot, m);
  const datasets = [];
  for (let v = lo; v < hi - 1e-9; v += step) {
    datasets.push({ data: [[v, v + step]], backgroundColor: colorFn(v + step / 2), borderWidth: 0, barPercentage: 1, categoryPercentage: 1, grouped: false });
  }
  new Chart(c, {
    type: 'bar',
    data: { labels: [''], datasets },
    options: {
      responsive: false, animation: false,
      layout: { padding: { top: m.t, bottom: m.b } },
      plugins: { legend: { display: false }, tooltip: { enabled: false } },
      scales: {
        x: { display: false },
        y: { position: 'right', min: lo, max: hi, afterFit: fixWidth(m.r), afterBuildTicks: setTicks(ticks), border: { display: false },
          grid: { drawOnChartArea: false, tickLength: 4, color: '#555' },
          ticks: { padding: 8, color: '#111', font: { family: sans, size: 20 }, callback: fmt } }
      }
    }
  });
}
corrPanel(lowCorr, lowCorrLabels, [-4,0,3,2,-3,2,2,4,3,-4,-2,8,6,7,4,4,2,2,3,4], { l: 159, r: 746, t: 669, b: 1256 }, { l: 757, r: 781, t: 669, b: 1256 });
corrPanel(highCorr, highCorrLabels, [-3,-5,-3,8,5,6,4,5,5,2,3,0,-1,4,4,-1,4,2,0], { l: 994, r: 1583, t: 677, b: 1263 }, { l: 1592, r: 1616, t: 677, b: 1263 });

// --- panel E ---
(function () {
  const plot = { l: 69, r: 1048, t: 1358, b: 1759 };
  const m = { l: 69, r: 4, t: 2, b: 260 };
  const c = makeCanvas(plot, m);
  const offs = .17;
  const datasets = [];
  const whiskers = [], brackets = [], lowDots = [], highDots = [];
  fractionCells.forEach((_, i) => {
    [[fractionLow[i], i - offs, '#0000FF', fractionLowMedian[i]], [fractionHigh[i], i + offs, '#FF0000', fractionHighMedian[i]]].forEach((g, k) => {
      const p = g[0];
      if (p.length) {
        datasets.push(violinSet(p, g[1], g[2], .8, 0.25));
        whiskers.push({ x: g[1], y: p[0][0] }, { x: g[1], y: p[p.length - 1][0] }, { x: g[1], y: null });
      }
      if (g[3] !== null) (k ? highDots : lowDots).push({ x: g[1], y: g[3] });
    });
    brackets.push({ x: i - .08, y: fractionBracket[i] }, { x: i + .14, y: fractionBracket[i] }, { x: i, y: null });
  });
  datasets.push(lineSet(whiskers, '#000', 1, 3));
  datasets.push(lineSet(brackets, '#222', 1, 3));
  datasets.push(dotSet(lowDots.concat(highDots), '#fff', 3.6, 1));
  const smallNotes = ['p=0.035', 'p=0.038'];
  const notes = fractionNoteText.map((t, i) => ({
    x: fractionNoteX[i], y: fractionNoteY[i], text: t,
    font: t === 'ns' ? '20px ' + sans : (smallNotes.includes(t) ? 'bold 15px ' + sans : 'bold 20px ' + sans)
  }));
  new Chart(c, {
    type: 'scatter',
    data: { datasets },
    options: baseOptions(m, {
      x: { type: 'linear', min: -.995, max: 21.67, afterFit: fixHeight(m.b), afterBuildTicks: setTicks(fractionCells.map((_, i) => i)), border: { display: false }, grid: { display: false },
        ticks: { autoSkip: false, minRotation: 45, maxRotation: 45, padding: 6, color: '#111', font: { family: sans, size: 21, style: 'italic', lineHeight: 1.1 }, callback: v => fractionCells[v] } },
      y: { min: -.031, max: .7687, afterFit: fixWidth(m.l), afterBuildTicks: setTicks(fractionTicks), border: { display: false },
        grid: { drawOnChartArea: false, tickLength: 6, color: '#444' },
        title: { display: true, text: 'Fraction', color: '#111', font: { family: sans, size: 20 }, padding: { top: 9, bottom: 0 } },
        ticks: { color: '#111', padding: 2, font: { family: sans, size: 19 }, callback: v => v.toFixed(1) } }
    }),
    plugins: [textMarks(notes), frame]
  });
})();

// --- panel F ---
(function () {
  const plot = { l: 1138, r: 1659, t: 1378, b: 1763 };
  const m = { l: 88, r: 4, t: 6, b: 50 };
  const c = makeCanvas(plot, m);
  const datasets = [];
  const addGroup = (profile, stats, cx, color) => {
    datasets.push(violinSet(profile, cx, color, 1.2, 0.35));
    const [lo, q1, med, q3, hi] = stats;
    const w = .05;
    datasets.push(lineSet([{ x: cx, y: lo }, { x: cx, y: q1 }, { x: cx, y: null }, { x: cx, y: q3 }, { x: cx, y: hi }], '#fff', 1.5, 4));
    datasets.push(lineSet([{ x: cx - w, y: q1 }, { x: cx + w, y: q1 }, { x: cx + w, y: q3 }, { x: cx - w, y: q3 }, { x: cx - w, y: q1 }], '#fff', 1.5, 4));
    datasets.push(lineSet([{ x: cx - w, y: med }, { x: cx + w, y: med }], '#fff', 2.5, 4));
  };
  scoreNames.forEach((_, i) => {
    addGroup(scoreLow[i], scoreLowBox[i], i - .2, '#0000FF');
  });
  scoreNames.forEach((_, i) => {
    addGroup(scoreHigh[i], scoreHighBox[i], i + .2, '#FF0000');
  });
  // the high group sits over the low group
  datasets.forEach((d, i) => { d.order = 1000 - i; });
  const sigMarks = [];
  scoreSigX.forEach((xs, i) => {
    const y = scoreSigY[i];
    datasets.push(lineSet([{ x: xs[0], y: y }, { x: xs[1], y: y }, { x: xs[1], y: null }, { x: xs[0], y: y - 135 }, { x: xs[0], y: y + 135 }, { x: xs[0], y: null }, { x: xs[1], y: y - 135 }, { x: xs[1], y: y + 135 }], '#222', 2, 1));
    sigMarks.push({ x: (xs[0] + xs[1]) / 2, y: y + 240, text: scoreSigText[i], font: 'bold 26px ' + sans });
  });
  new Chart(c, {
    type: 'scatter',
    data: { datasets },
    options: baseOptions(m, {
      x: { type: 'linear', min: -.603, max: 2.603, afterFit: fixHeight(m.b), afterBuildTicks: setTicks([0, 1, 2]), border: { color: '#222', width: 1.5 },
        grid: { drawOnChartArea: false, tickLength: 4, color: '#222' },
        ticks: { padding: 6, color: '#111', font: { family: sans, size: 20 }, callback: v => scoreNames[v] } },
      y: { min: -2480, max: 5040, afterFit: fixWidth(m.l), afterBuildTicks: setTicks(scoreTicks), border: { color: '#222', width: 1.5 },
        grid: { drawOnChartArea: false, tickLength: 4, color: '#222' },
        title: { display: true, text: 'TME score', color: '#111', font: { family: sans, size: 18 }, padding: { top: 8, bottom: 0 } },
        ticks: { padding: 4, color: '#111', font: { family: sans, size: 20 }, callback: v => String(v) } }
    }),
    plugins: [textMarks(sigMarks)]
  });
})();

// --- panel G ---
(function () {
  const plot = { l: 74, r: 901, t: 2023, b: 2389 };
  const m = { l: 74, r: 4, t: 4, b: 90 };
  const c = makeCanvas(plot, m);
  const offs = .2;
  const whisk = [], meds = [], outs = [];
  const lowBars = [], highBars = [];
  geneNames.forEach((_, i) => {
    [[geneLow[i], i - offs, lowBars, geneLowOutliers[i]], [geneHigh[i], i + offs, highBars, geneHighOutliers[i]]].forEach(g => {
      const [lo, q1, med, q3, hi] = g[0];
      whisk.push({ x: g[1], y: lo }, { x: g[1], y: hi }, { x: g[1], y: null });
      meds.push({ x: g[1] - .2, y: med }, { x: g[1] + .2, y: med }, { x: g[1], y: null });
      g[2].push({ x: g[1], y: [q1, q3] });
      g[3].forEach(v => outs.push({ x: g[1], y: v }));
    });
  });
  const barSet = (data, color) => ({ type: 'bar', data, backgroundColor: color, borderColor: '#333', borderWidth: 1.2, borderSkipped: false, barThickness: 15, grouped: false, order: 4 });
  const stars = geneStars.map((s, i) => ({ x: i, y: 3.735, text: s, font: 'bold 22px ' + sans }));
  new Chart(c, {
    type: 'bar',
    data: { datasets: [
      lineSet(whisk, '#111', 1.3, 6),
      barSet(lowBars, '#0A66F2'),
      barSet(highBars, '#FF0000'),
      lineSet(meds, '#000', 2.6, 2),
      dotSet(outs, '#000', 3.4, 2)
    ] },
    options: baseOptions(m, {
      x: { type: 'linear', offset: false, min: -.6, max: 21.6, afterFit: fixHeight(m.b), afterBuildTicks: setTicks(geneNames.map((_, i) => i)), border: { color: '#333', width: 1.5 },
        grid: { drawOnChartArea: false, offset: false, tickLength: 5, color: '#333' },
        ticks: { autoSkip: false, minRotation: 45, maxRotation: 45, padding: 4, color: '#111', font: { family: sans, size: 19, style: 'italic' }, callback: v => geneNames[v] } },
      y: { min: 2.225, max: 3.766, afterFit: fixWidth(m.l), afterBuildTicks: setTicks(geneTicks), border: { color: '#333', width: 1.5 },
        grid: { drawOnChartArea: false, tickLength: 5, color: '#333' },
        title: { display: true, text: 'Gene expression', color: '#111', font: { family: sans, size: 20 }, padding: { top: 9, bottom: 0 } },
        ticks: { padding: 3, color: '#111', font: { family: sans, size: 18 }, callback: v => v.toFixed(1) } }
    }),
    plugins: [textMarks(stars)]
  });
})();

// --- panel H ---
function heatColor(v) {
  const t = Math.max(-1, Math.min(1, v));
  const mix = (a, b, k) => Math.round(a + (b - a) * k);
  if (t >= 0) return 'rgb(' + mix(255, 205, t) + ',' + mix(255, 38, t) + ',' + mix(255, 38, t) + ')';
  return 'rgb(' + mix(255, 0, -t) + ',' + mix(255, 0, -t) + ',' + mix(255, 128, -t) + ')';
}
(function () {
  const plot = { l: 980, r: 1398, t: 1998, b: 2433 };
  const m = { l: 0, r: 272, t: 12, b: 2 };
  const c = makeCanvas(plot, m);
  const trackTop = -.777, trackBottom = -.17;
  const columns = heatLeft[0].map((_, i) => i).concat(heatRight[0].map((_, i) => i + heatLeft[0].length));
  const datasets = immuneSets.map((_, r) => {
    const row = heatLeft[r].concat(heatRight[r]);
    return { data: row.map(() => [r, r + 1]), backgroundColor: row.map(n => heatColor(n / 3)), borderWidth: 0, barPercentage: 1, categoryPercentage: 1, grouped: false };
  });
  datasets.push({ data: columns.map(() => [trackTop, trackBottom]), backgroundColor: columns.map(i => i < lowColumns ? '#00D8DE' : '#FF9389'), borderWidth: 0, barPercentage: 1, categoryPercentage: 1, grouped: false });
  // row names carry their significance stars as small raised text
  const rowText = {
    id: 'rowText',
    afterDraw(chart) {
      const ctx = chart.ctx, x0 = chart.chartArea.right + 2;
      ctx.save();
      ctx.fillStyle = '#111';
      ctx.textAlign = 'left';
      ctx.textBaseline = 'middle';
      ctx.font = '20px ' + sans;
      ctx.fillText('Type', x0, chart.scales.y.getPixelForValue(-.6));
      immuneSets.forEach((name, r) => {
        const y = chart.scales.y.getPixelForValue(r + .5);
        const base = name.replace(/\*+$/, '');
        const sig = name.slice(base.length);
        ctx.font = '20.5px ' + sans;
        ctx.fillText(base, x0, y);
        const w = ctx.measureText(base).width;
        ctx.font = '14px ' + sans;
        ctx.fillText(sig, x0 + w, y - 4);
      });
      ctx.restore();
    }
  };
  new Chart(c, {
    type: 'bar',
    data: { labels: columns, datasets },
    options: {
      responsive: false, animation: false,
      layout: { padding: { top: m.t, bottom: m.b } },
      plugins: { legend: { display: false }, tooltip: { enabled: false } },
      scales: {
        x: { display: false },
        y: { position: 'right', min: trackTop, max: 18, reverse: true, afterFit: fixWidth(m.r), border: { display: false }, grid: { display: false }, ticks: { display: false } }
      }
    },
    plugins: [rowText]
  });

  // dendrogram
  const dPlot = { l: 907, r: 980, t: 2016, b: 2433 };
  const dm = { l: 0, r: 0, t: 0, b: 0 };
  const dc = makeCanvas(dPlot, dm);
  const pts = [];
  dendroSegments.forEach(s => { pts.push({ x: s[0], y: s[1] }, { x: s[2], y: s[3] }, { x: s[2], y: null }); });
  new Chart(dc, {
    type: 'scatter',
    data: { datasets: [lineSet(pts, '#444', 1.2, 1)] },
    options: {
      responsive: false, animation: false,
      plugins: { legend: { display: false }, tooltip: { enabled: false } },
      scales: { x: { display: false, min: 15, max: 162 }, y: { display: false, min: 0, max: 18, reverse: true } }
    }
  });

  colorBar({ l: 1625, r: 1638, t: 2066, b: 2269 }, -4.7, 4.7, heatTicks, heatColor, .1, v => String(v));
})();

// --- page text ---
const letters = [['A',27,22],['B',843,17],['C',24,489],['D',863,489],['E',26,1318],['F',1073,1317],['G',24,1965],['H',942,1965]];
letters.forEach(l => txt(l[0], l[1], l[2], { size: 42, anchor: 'center' }));
txt('Low-risk group', 98, 37, { size: 26, weight: 600 });
txt('High-risk group', 927, 33, { size: 26, weight: 600 });
txt('Low-risk group', 98, 498, { size: 26, weight: 600 });
txt('High-risk group', 940, 500, { size: 26, weight: 600 });
txt('Relative Percent', 13, 226, { size: 20, anchor: 'center', rot: -90 });
txt('Relative Percent', 845, 226, { size: 20, anchor: 'center', rot: -90 });

// legends of F and G
txt('Risk', 1312, 1341, { size: 20 });
function fKey(x, color) {
  box(x, 1331, 22, 22, 'background:' + color + ';border:1px solid #222');
  box(x + 4, 1336, 14, 12, 'border:1px solid #fff');
  box(x + 4, 1341, 14, 2, 'background:#fff');
}
fKey(1360, '#0000FF');
txt('low', 1384, 1341, { size: 20 });
fKey(1421, '#FF0000');
txt('high', 1448, 1341, { size: 20 });

txt('Risk', 395, 1983, { size: 20 });
function gKey(x, color) {
  box(x + 10, 1971, 1, 24, 'background:#333');
  box(x, 1975, 21, 15, 'background:' + color + ';border:1px solid #333');
  box(x, 1981, 21, 3, 'background:#000');
}
gKey(447, '#0A66F2');
txt('low', 473, 1983, { size: 20 });
gKey(515, '#FF0000');
txt('high', 543, 1983, { size: 20 });

// legend of H
txt('Type', 1561, 1997, { size: 20 });
box(1567, 2014, 19, 20, 'background:#00D8DE');
box(1567, 2034, 19, 20, 'background:#FF9389');
txt('Low risk', 1589, 2021, { size: 19 });
txt('High risk', 1589, 2044, { size: 19 });
</script>
</body>
</html>
